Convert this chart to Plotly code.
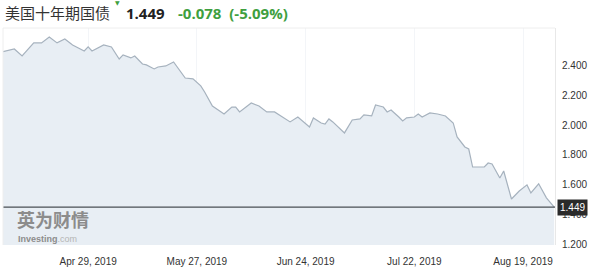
import plotly.graph_objects as go

dates = [
    "2019-04-07", "2019-04-10", "2019-04-12", "2019-04-15", "2019-04-17", "2019-04-19", "2019-04-21",
    "2019-04-23", "2019-04-25", "2019-04-26", "2019-04-28", "2019-04-29", "2019-04-30",
    "2019-05-03", "2019-05-05", "2019-05-07", "2019-05-08", "2019-05-10", "2019-05-11", "2019-05-13",
    "2019-05-14", "2019-05-16", "2019-05-17", "2019-05-19", "2019-05-21", "2019-05-24", "2019-05-26",
    "2019-05-28", "2019-05-29", "2019-05-31",
    "2019-06-01", "2019-06-03", "2019-06-05", "2019-06-06", "2019-06-07", "2019-06-10", "2019-06-12",
    "2019-06-14", "2019-06-16", "2019-06-19", "2019-06-20", "2019-06-22", "2019-06-25", "2019-06-26",
    "2019-06-28", "2019-06-29", "2019-06-30",
    "2019-07-01", "2019-07-03", "2019-07-04", "2019-07-06", "2019-07-08", "2019-07-09", "2019-07-11",
    "2019-07-12", "2019-07-14", "2019-07-15", "2019-07-16", "2019-07-18", "2019-07-19", "2019-07-20",
    "2019-07-22", "2019-07-23", "2019-07-24", "2019-07-26", "2019-07-28", "2019-07-30",
    "2019-08-01", "2019-08-02", "2019-08-04", "2019-08-05", "2019-08-06", "2019-08-08", "2019-08-09",
    "2019-08-10", "2019-08-11", "2019-08-13", "2019-08-14", "2019-08-16", "2019-08-18", "2019-08-20",
    "2019-08-21", "2019-08-23", "2019-08-25", "2019-08-27",
]
yields = [
    2.494, 2.512, 2.465, 2.553, 2.553, 2.593, 2.553,
    2.579, 2.539, 2.526, 2.499, 2.526, 2.499,
    2.539, 2.526, 2.445, 2.472, 2.452, 2.465, 2.411,
    2.405, 2.378, 2.391, 2.398, 2.425, 2.317, 2.311,
    2.264, 2.223, 2.129,
    2.109, 2.075, 2.122, 2.122, 2.089, 2.149, 2.129,
    2.089, 2.089, 2.042, 2.022, 2.055, 1.988, 2.049,
    2.015, 2.008, 2.042,
    2.022, 1.968, 1.948, 2.035, 2.042, 2.069, 2.062,
    2.136, 2.122, 2.089, 2.102, 2.055, 2.028, 2.049,
    2.055, 2.075, 2.055, 2.082, 2.075, 2.062,
    2.015, 1.921, 1.854, 1.840, 1.719, 1.719, 1.719,
    1.746, 1.739, 1.645, 1.692, 1.504, 1.558, 1.599,
    1.545, 1.606, 1.512, 1.449,
]
x_ticks = ["2019-04-29", "2019-05-27", "2019-06-24", "2019-07-22", "2019-08-19"]
x_tick_labels = ["Apr 29, 2019", "May 27, 2019", "Jun 24, 2019", "Jul 22, 2019", "Aug 19, 2019"]
y_ticks = [1.2, 1.4, 1.6, 1.8, 2.0, 2.2, 2.4]
y_tick_labels = ["1.200", "1.400", "1.600", "1.800", "2.000", "2.200", "2.400"]
title = "美国十年期国债"
last_price = 1.449
change = "-0.078"
change_pct = "(-5.09%)"

GREEN = "#3f9f3f"

fig = go.Figure()
fig.add_trace(go.Scatter(
    x=dates, y=yields, mode="lines",
    line=dict(color="#a6b2be", width=1.2),
    fill="tozeroy", fillcolor="#e8eef4",
    hoverinfo="skip",
))

fig.add_hline(y=last_price, line=dict(color="#4a4f55", width=1.3))

fig.update_layout(
    width=600, height=274,
    margin=dict(l=3, r=45, t=28, b=29),
    paper_bgcolor="white", plot_bgcolor="white",
    showlegend=False,
    font=dict(family="Liberation Sans, Arial", size=10, color="#333333"),
    xaxis=dict(
        range=["2019-04-07 02:00", "2019-08-27 05:00"],
        tickvals=x_ticks, ticktext=x_tick_labels,
        showgrid=True, gridcolor="#f3f5f8", zeroline=False,
        showline=False, ticks="", ticklabelstandoff=9,
        tickfont=dict(size=10, color="#333333"),
    ),
    yaxis=dict(
        side="right",
        range=[1.195, 2.653],
        tickvals=y_ticks, ticktext=y_tick_labels,
        showgrid=False, zeroline=False,
        showline=True, linecolor="#e8e8e8", linewidth=1,
        ticks="", ticklabelstandoff=4,
        tickfont=dict(size=10, color="#333333"),
    ),
)

# top and left light frame
fig.add_shape(type="line", xref="paper", yref="paper", x0=0, x1=1, y0=1, y1=1,
              line=dict(color="#eeeeee", width=1))
fig.add_shape(type="line", xref="paper", yref="paper", x0=0, x1=0, y0=0, y1=1,
              line=dict(color="#eeeeee", width=1))

# header
fig.add_annotation(
    xref="paper", yref="paper", x=0.0, y=1.07, xanchor="left", yanchor="middle",
    showarrow=False,
    text=title,
    font=dict(family="Noto Sans CJK SC", size=15, color="#333333"),
)
fig.add_annotation(
    xref="paper", yref="paper", x=0.207, y=1.118, xanchor="center", yanchor="middle",
    showarrow=False, text="▼",
    font=dict(family="DejaVu Sans", size=6, color=GREEN),
)
fig.add_annotation(
    xref="paper", yref="paper", x=0.219, y=1.07, xanchor="left", yanchor="middle",
    showarrow=False,
    text=(f"<b>{last_price:.3f}</b>"),
    font=dict(family="Open Sans", size=15, color="#222222"),
)
fig.add_annotation(
    xref="paper", yref="paper", x=0.313, y=1.07, xanchor="left", yanchor="middle",
    showarrow=False,
    text=f"<b>{change}</b>&nbsp;&nbsp;<b>{change_pct}</b>",
    font=dict(family="Open Sans", size=15, color=GREEN),
)

# price tag on axis
fig.add_annotation(
    xref="paper", yref="y", x=1.0, y=last_price, xanchor="left", yanchor="middle",
    xshift=2, showarrow=False, text=f"{last_price:.3f}",
    font=dict(family="Liberation Sans, Arial", size=10, color="white"),
    bgcolor="#2a2a2a", borderpad=2,
)

# watermark
fig.add_annotation(
    xref="paper", yref="paper", x=0.022, y=0.122, xanchor="left", yanchor="middle",
    showarrow=False, text="<b>英为财情</b>",
    font=dict(family="Noto Sans CJK SC", size=18, color="#8c8c8c"),
)
fig.add_annotation(
    xref="paper", yref="paper", x=0.024, y=0.026, xanchor="left", yanchor="middle",
    showarrow=False, text="<b>Investing</b><span style='color:#b5b5b5'>.com</span>",
    font=dict(family="Liberation Sans, Arial", size=9, color="#8c8c8c"),
)

fig.write_html("out.html")
